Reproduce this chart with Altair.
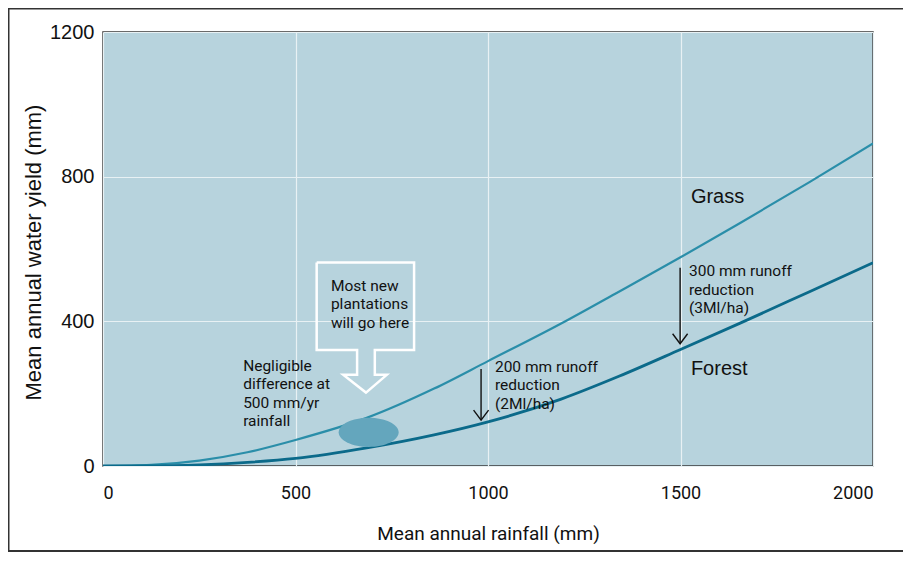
import altair as alt
import pandas as pd

# ---- data ----
rainfall = [0, 125, 250, 375, 500, 685, 860, 1000, 1190, 1340, 1500, 1655, 1835, 2000]
grass = [0, 3, 15, 38, 72, 133, 214, 290, 394, 482, 577, 672, 785, 892]
forest = [0, 0, 3, 10, 21, 50, 86, 122, 185, 248, 322, 395, 482, 562]

x_ticks = [0, 500, 1000, 1500, 2000]
y_ticks = [0, 400, 800, 1200]

# annotation geometry (data units)
box_x = [555, 808, 808, 706, 706, 737, 683, 624, 660, 660, 555, 555]
box_y = [563, 563, 321, 321, 252, 252, 203, 252, 252, 321, 321, 563]

arrow_x = [982, 1499]
arrow_top = [268, 548]
arrow_tip = [127, 338]

ellipse_x = [690]
ellipse_y = [93]

note_text = [
    "Negligible\ndifference at\n500 mm/yr\nrainfall",
    "200 mm runoff\nreduction\n(2Ml/ha)",
    "300 mm runoff\nreduction\n(3Ml/ha)",
    "Most new\nplantations\nwill go here",
]
note_x = [364, 1018, 1522, 592]
note_y = [277, 274, 539, 498]

label_text = ["Grass", "Forest"]
label_x = [1527, 1527]
label_y = [744, 268]

NARROW = "Roboto, Liberation Sans, sans-serif"
REG = "Liberation Sans, Arial, Helvetica, sans-serif"

W, H = 770, 434

curves = pd.DataFrame({
    "rainfall": rainfall * 2,
    "yield": grass + forest,
    "series": ["Grass"] * len(rainfall) + ["Forest"] * len(rainfall),
})

xs = alt.Scale(domain=[0, 2000], nice=False, zero=False)
ys = alt.Scale(domain=[0, 1200], nice=False)

base_x = alt.X("rainfall:Q", scale=xs,
               axis=alt.Axis(values=x_ticks, format="d", title="Mean annual rainfall (mm)",
                             ticks=False, domain=False, gridColor="#e8f1f4",
                             gridWidth=1.2, labelFont=NARROW, labelFontSize=18,
                             labelColor="#111", labelPadding=18,
                             titleFont=NARROW, titleFontSize=19,
                             titleFontWeight="normal", titleColor="#111",
                             titleY=67, titleBaseline="middle"))
base_y = alt.Y("yield:Q", scale=ys,
               axis=alt.Axis(values=y_ticks, format="d", title="Mean annual water yield (mm)",
                             ticks=False, domain=False, gridColor="#e8f1f4",
                             gridWidth=1.2, labelFont=REG, labelFontSize=20,
                             labelColor="#111", labelPadding=9,
                             titleFont=REG, titleFontSize=22,
                             titleFontWeight="normal", titleColor="#111",
                             titleX=-70, titleY=220, titleAngle=-90,
                             titleBaseline="middle", titleAlign="center"))

frame = alt.Chart(pd.DataFrame({"a": [0]})).mark_rect(
    fill=None, stroke="#333", strokeWidth=2, clip=False
).encode(x=alt.value(-94.5), x2=alt.value(830), y=alt.value(-23.5), y2=alt.value(519))

lines = alt.Chart(curves).mark_line(interpolate="monotone", clip=True).encode(
    x=base_x, y=base_y,
    color=alt.Color("series:N", scale=alt.Scale(domain=["Grass", "Forest"],
                                                 range=["#2a8ea9", "#0b6a8a"]),
                    legend=None),
    strokeWidth=alt.StrokeWidth("series:N", scale=alt.Scale(domain=["Grass", "Forest"],
                                                             range=[2.2, 2.8]),
                                legend=None),
)

ellipse_path = ("M -1 0 C -1 -0.27 -0.55 -0.49 0 -0.49 C 0.55 -0.49 1 -0.27 1 0 "
                "C 1 0.27 0.55 0.49 0 0.49 C -0.55 0.49 -1 0.27 -1 0 Z")
ellipse = alt.Chart(pd.DataFrame({"x": ellipse_x, "y": ellipse_y})).mark_point(
    shape=ellipse_path, filled=True, fill="#64a6bd", opacity=1, size=3600, strokeWidth=0
).encode(x=alt.X("x:Q", scale=xs), y=alt.Y("y:Q", scale=ys))

box = alt.Chart(pd.DataFrame({"x": box_x, "y": box_y, "o": list(range(len(box_x)))})).mark_line(
    color="white", strokeWidth=2.5, strokeJoin="miter"
).encode(x=alt.X("x:Q", scale=xs), y=alt.Y("y:Q", scale=ys), order="o:Q")

arrows_df = pd.DataFrame({"x": arrow_x, "top": arrow_top, "tip": arrow_tip})
shafts = alt.Chart(arrows_df).mark_rule(color="#111", strokeWidth=1.4).encode(
    x=alt.X("x:Q", scale=xs), y=alt.Y("top:Q", scale=ys), y2="tip:Q")
heads = alt.Chart(arrows_df).mark_point(
    shape="M -0.75 -1 L 0 0 L 0.75 -1", filled=False, stroke="#111",
    strokeWidth=1.4, size=400, opacity=1
).encode(x=alt.X("x:Q", scale=xs), y=alt.Y("tip:Q", scale=ys))

notes = alt.Chart(pd.DataFrame({"t": note_text, "x": note_x, "y": note_y})).mark_text(
    align="left", baseline="middle", font=NARROW, fontSize=15.5, lineHeight=18.5,
    lineBreak="\n", color="#111"
).encode(x=alt.X("x:Q", scale=xs), y=alt.Y("y:Q", scale=ys), text="t:N")

labels = alt.Chart(pd.DataFrame({"t": label_text, "x": label_x, "y": label_y})).mark_text(
    align="left", baseline="middle", font=REG, fontSize=20, color="#111"
).encode(x=alt.X("x:Q", scale=xs), y=alt.Y("y:Q", scale=ys), text="t:N")

chart = alt.layer(frame, lines, ellipse, box, shafts, heads, notes, labels).properties(
    width=W, height=H,
    autosize=alt.AutoSizeParams(type="none"),
    padding={"left": 95, "top": 24, "right": 30, "bottom": 87},
    background="white",
).configure_view(
    fill="#b7d3dd", stroke="#3a3a3a", strokeWidth=1.5
)

chart.save("out.html", embed_options={"renderer": "svg", "actions": False})
